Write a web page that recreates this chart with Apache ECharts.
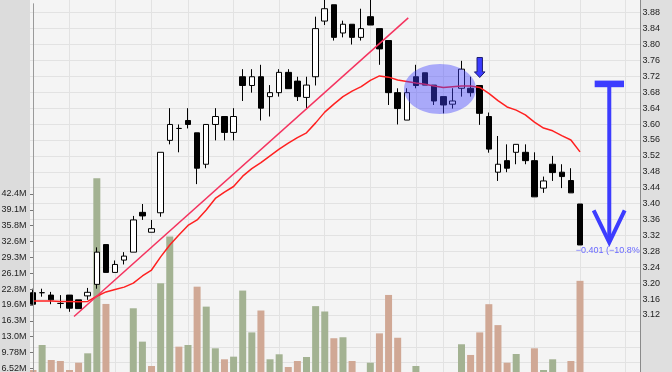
<!DOCTYPE html>
<html><head><meta charset="utf-8">
<script src="https://cdn.jsdelivr.net/npm/echarts@6.0.0/dist/echarts.min.js"></script>
<style>html,body{margin:0;padding:0;background:#fff}#c{width:672px;height:372px}</style>
</head><body><div id="c"></div>
<script>
// ---- data ----
const open  = [3.176,3.176,3.170,3.149,3.170,3.158,3.168,3.197,3.297,3.227, 3.258,3.278,3.378,3.328,3.377,3.559,3.589,3.609,3.578,3.499, 3.599,3.619,3.579,3.719,3.697,3.719,3.669,3.679,3.730,3.708, 3.667,3.719,3.859,3.900,3.829,3.851,3.818,3.870,3.840,3.810, 3.679,3.610,3.719,3.729,3.698,3.669,3.650,3.690,3.690,3.697, 3.619,3.479,3.508,3.529,3.529,3.508,3.439,3.499,3.479,3.458, 3.399];
const close = [3.147,3.176,3.158,3.149,3.137,3.136,3.177,3.278,3.227,3.247, 3.268,3.359,3.369,3.337,3.529,3.599,3.589,3.599,3.489,3.599, 3.619,3.579,3.619,3.697,3.719,3.640,3.679,3.730,3.689,3.669, 3.698,3.840,3.890,3.818,3.851,3.818,3.840,3.849,3.789,3.679, 3.639,3.679,3.697,3.698,3.658,3.648,3.658,3.738,3.679,3.627, 3.537,3.499,3.489,3.549,3.508,3.417,3.457,3.478,3.468,3.427, 3.296];
const low   = [3.146,3.166,3.147,3.137,3.128,3.136,3.158,3.186,3.227,3.227, 3.247,3.278,3.359,3.328,3.367,3.549,3.529,3.589,3.449,3.489, 3.559,3.559,3.559,3.658,3.679,3.609,3.619,3.669,3.689,3.658, 3.640,3.697,3.849,3.810,3.818,3.800,3.810,3.849,3.749,3.648, 3.599,3.610,3.690,3.698,3.648,3.627,3.639,3.669,3.669,3.598, 3.528,3.457,3.479,3.499,3.499,3.417,3.427,3.457,3.439,3.427, 3.296];
const high  = [3.186,3.186,3.178,3.170,3.170,3.158,3.188,3.290,3.297,3.257, 3.278,3.369,3.399,3.359,3.529,3.640,3.599,3.640,3.578,3.599, 3.640,3.619,3.640,3.738,3.738,3.749,3.698,3.738,3.738,3.719, 3.719,3.870,3.915,3.900,3.860,3.851,3.890,3.915,3.840,3.810, 3.690,3.690,3.749,3.729,3.698,3.669,3.690,3.759,3.719,3.697, 3.629,3.570,3.549,3.549,3.549,3.529,3.468,3.520,3.499,3.489, 3.399];
const priorClose = 3.16;
const volumeM = [6.17,11.31,8.23,8.02,6.17,7.67,9.60,45.6,19.75,5.0, 5.3,18.86,12.0,6.99,24.0,33.6,10.97,11.31,23.3,19.2, 10.63,8.37,8.91,22.5,13.9,18.4,8.37,9.4,6.79,8.02, 8.84,19.3,18.2,12.7,12.9,8.02,5.2,7.67,13.7,21.6, 12.8,4.8,6.99,5.1,4.6,5.4,4.9,11.46,9.26,13.9, 19.7,15.4,7.67,9.46,5.0,10.63,6.17,8.37,5.2,8.02, 24.5];
const movingAvg = [3.155,3.155,3.155,3.154,3.154,3.153,3.154,3.167,3.178,3.184, 3.190,3.200,3.218,3.233,3.266,3.296,3.321,3.345,3.359,3.384, 3.413,3.429,3.443,3.469,3.488,3.503,3.520,3.537,3.552,3.566, 3.578,3.603,3.630,3.650,3.669,3.683,3.694,3.710,3.721,3.718, 3.711,3.707,3.703,3.700,3.696,3.692,3.694,3.696,3.696,3.692, 3.677,3.659,3.643,3.635,3.623,3.605,3.590,3.583,3.571,3.560, 3.530];
const weekLines = [4,9,13,17,22,27,32,37,42,45,50,55,60,65];
const volStep = 3.259;
const volTickLabels = ['6.52M','9.78M','13.0M','16.3M','19.6M','22.8M','26.1M','29.3M','32.6M','35.8M','39.1M','42.4M'];
const trendLine = [[4.50, 3.116], [41.16, 3.867]];
const highlight = {x: 44.64, price: 3.688};
const signalIndex = 49;
const measure = {x: 63.21, from: 3.701, to: 3.300};

// ---- chart ----
const chart = echarts.init(document.getElementById('c'), null, {renderer: 'canvas', width: 672, height: 372});
const idx = open.map((_, i) => i);
const candleData = idx.map(i => [i, open[i], close[i], low[i], high[i]]);
const volData = idx.map(i => {
  const prev = i === 0 ? priorClose : close[i - 1];
  return {value: [i, volumeM[i]], itemStyle: {color: close[i] > prev ? '#a3b292' : '#d0a895'}};
});
const maData = idx.map(i => [i, movingAvg[i]]);
const volTicks = volTickLabels.map((_, k) => +((k + 2) * volStep).toFixed(3));
const xMin = -0.33, xMax = 66.58;
const FONT = 'Liberation Sans';

chart.setOption({
  animation: false,
  textStyle: {fontFamily: FONT},
  grid: [
    {left: 30, width: 610, top: -3.2, height: 381.8, outerBoundsMode: 'none', containLabel: false,
     show: true, backgroundColor: '#f4f4f4', borderWidth: 0},
    {left: 30, width: 610, top: 3.75, height: 396.25, outerBoundsMode: 'none', containLabel: false, show: false}
  ],
  xAxis: [
    {type: 'value', gridIndex: 0, min: xMin, max: xMax, show: false},
    {type: 'value', gridIndex: 1, min: xMin, max: xMax, show: false}
  ],
  yAxis: [
    {type: 'value', gridIndex: 0, position: 'right', min: 2.96, max: 3.92, interval: 0.04,
     axisLine: {show: false}, axisTick: {show: false}, axisLabel: {show: false},
     splitLine: {show: true, lineStyle: {color: '#e2e2e2', width: 1}}},
    {type: 'value', gridIndex: 1, position: 'left', min: 0, max: 25 * volStep, interval: volStep, z: 30,
     axisLine: {show: true, lineStyle: {color: '#9a9a9a', width: 1}},
     axisTick: {show: true, length: 3, lineStyle: {color: '#777'}, customValues: volTicks},
     axisLabel: {margin: 3.5, fontSize: 9, color: '#222', fontFamily: FONT, customValues: volTicks,
       formatter: v => volTickLabels[Math.round(v / volStep) - 2] || ''},
     splitLine: {show: false}},
    {type: 'value', gridIndex: 0, position: 'right', min: 2.96, max: 3.92, interval: 0.04, z: 30,
     axisLine: {show: true, lineStyle: {color: '#8a8a8a', width: 1}}, axisTick: {show: false},
     axisLabel: {margin: 2.5, fontSize: 9, color: '#222', fontFamily: FONT,
       formatter: v => (v < 3.11 || v > 3.89) ? '' : v.toFixed(2)},
     splitLine: {show: false}}
  ],
  series: [
    {type: 'bar', xAxisIndex: 1, yAxisIndex: 1, barWidth: 7, data: volData, silent: true},
    {type: 'candlestick', xAxisIndex: 0, yAxisIndex: 0, barWidth: 6, data: candleData, silent: true,
     itemStyle: {color: '#ffffff', color0: '#000000', borderColor: '#000000', borderColor0: '#000000', borderWidth: 1}},
    {type: 'line', xAxisIndex: 0, yAxisIndex: 0, data: maData, showSymbol: false, silent: true,
     lineStyle: {color: '#ff2020', width: 1.5},
     markLine: {silent: true, z: 1, symbol: ['none', 'none'], label: {show: false}, animation: false,
       lineStyle: {color: '#e2e2e2', type: 'solid', width: 1},
       emphasis: {disabled: true},
       data: weekLines.map(v => ({xAxis: v}))}},
    {type: 'line', xAxisIndex: 0, yAxisIndex: 0, data: trendLine, showSymbol: false, silent: true,
     lineStyle: {color: '#f5335f', width: 1.5}}
  ]
});

const P = (x, y) => chart.convertToPixel({xAxisIndex: 0, yAxisIndex: 0}, [x, y]);
const gl = P(xMin, 3.9)[0], gr = P(xMax, 3.9)[0];
const ec = P(highlight.x, highlight.price);
const sig = P(signalIndex, high[signalIndex]);
const mTop = P(measure.x, measure.from), mBot = P(measure.x, measure.to);
const delta = measure.to - measure.from;
const pct = delta / measure.from * 100;
const fmt = (v, d) => (v < 0 ? '\u2212' : '') + Math.abs(v).toFixed(d);
const labelText = fmt(delta, 3) + ' (' + fmt(pct, 1) + '%)';
const blue = '#3c3cff';
const tipY = sig[1] - 8;

chart.setOption({
  graphic: [
    {type: 'rect', silent: true, z: 20, shape: {x: 0, y: 0, width: gl, height: 372}, style: {fill: '#dcdcdc'}},
    {type: 'rect', silent: true, z: 20, shape: {x: gr, y: 0, width: 672 - gr, height: 372}, style: {fill: '#dfdfdf'}},
    {type: 'ellipse', silent: true, z: 10, shape: {cx: ec[0], cy: ec[1], rx: 36, ry: 25}, style: {fill: 'rgba(64,64,255,0.42)'}},
    {type: 'polygon', silent: true, z: 10, shape: {points: [
      [sig[0] - 2.7, tipY - 20], [sig[0] + 2.7, tipY - 20], [sig[0] + 2.7, tipY - 5.6], [sig[0] + 5.3, tipY - 5.6],
      [sig[0], tipY], [sig[0] - 5.3, tipY - 5.6], [sig[0] - 2.7, tipY - 5.6]]},
     style: {fill: '#3a3aff', stroke: '#1c1c70', lineWidth: 1}},
    {type: 'rect', silent: true, z: 10, shape: {x: mTop[0] - 14.6, y: mTop[1] - 3.3, width: 29.3, height: 6.6}, style: {fill: blue}},
    {type: 'line', silent: true, z: 10, shape: {x1: mTop[0], y1: mTop[1], x2: mBot[0], y2: mBot[1] - 2}, style: {stroke: blue, lineWidth: 4}},
    {type: 'polyline', silent: true, z: 10, shape: {points: [[mBot[0] - 15.6, mBot[1] - 33], [mBot[0], mBot[1] - 1], [mBot[0] + 15.4, mBot[1] - 33]]},
     style: {stroke: blue, lineWidth: 4, fill: null, lineJoin: 'miter'}},
    {type: 'text', silent: true, z: 10, x: mBot[0], y: mBot[1] + 7.5,
     style: {text: labelText, fill: '#6a6aff', font: '9px "Liberation Sans"', align: 'center', verticalAlign: 'middle'}}
  ]
});
</script>
</body></html>
